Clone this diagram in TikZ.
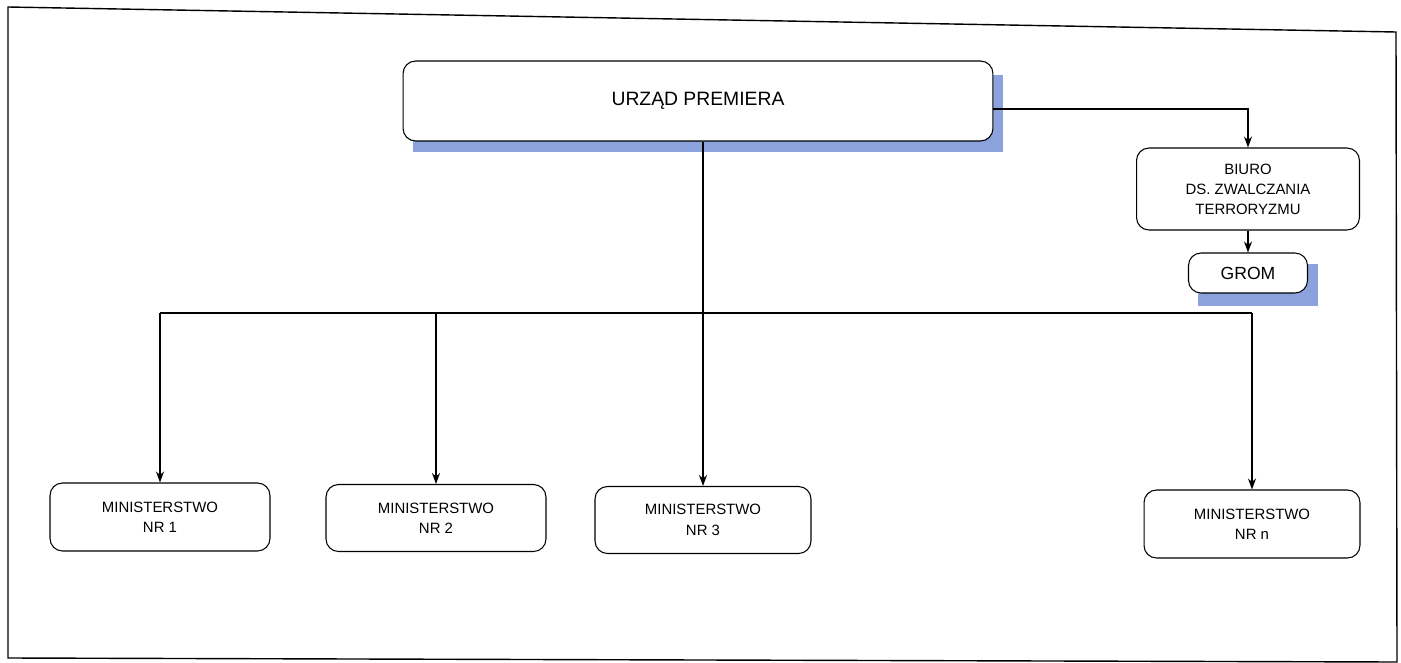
\documentclass[tikz,border=0pt]{standalone}
\usepackage{fontspec}
\setmainfont{Liberation Sans}
\usetikzlibrary{arrows.meta,backgrounds,positioning}
\definecolor{shadowblue}{RGB}{140,162,220}

\tikzset{
  box/.style={draw, fill=white, rounded corners=0.25cm, line width=0.6pt, align=center, inner sep=0pt},
  arr/.style={-{Stealth[length=2.2mm,width=1.6mm]}, line width=0.9pt}
}

\begin{document}
\begin{tikzpicture}[x=0.02cm,y=-0.02cm]
\useasboundingbox (0,0) rectangle (1401,663);
\draw[line width=0.8pt] (8,7) -- (1396,32) -- (1397,662) -- (8,658) -- cycle;

\node[box,minimum width=11.8cm,minimum height=1.6cm,font=\fontsize{11}{13}\selectfont] (premier) at (698,101) {URZĄD PREMIERA};
\node[box,minimum width=4.46cm,minimum height=1.64cm,font=\fontsize{8.5}{11.4}\selectfont] (biuro) at (1248,189) {BIURO\\DS. ZWALCZANIA\\TERRORYZMU};
\node[box,minimum width=2.38cm,minimum height=0.8cm,font=\fontsize{10}{12}\selectfont] (grom) at (1248,273) {GROM};

\node[box,minimum width=4.4cm,minimum height=1.36cm,font=\fontsize{8.5}{11.6}\selectfont] (min1) at (160,517) {MINISTERSTWO\\NR 1};
\node[box,minimum width=4.4cm,minimum height=1.34cm,font=\fontsize{8.5}{11.6}\selectfont] (min2) at (436,518) {MINISTERSTWO\\NR 2};
\node[box,minimum width=4.32cm,minimum height=1.34cm,font=\fontsize{8.5}{11.6}\selectfont] (min3) at (703,520) {MINISTERSTWO\\NR 3};
\node[box,minimum width=4.32cm,minimum height=1.36cm,font=\fontsize{8.5}{11.6}\selectfont] (minn) at (1252,524) {MINISTERSTWO\\NR n};

% flat blue shadows behind the two top boxes
\begin{scope}[on background layer]
\fill[shadowblue] ([shift={(0.2cm,-0.2cm)}]premier.south west) rectangle ([shift={(0.2cm,-0.3cm)}]premier.north east);
\fill[shadowblue] ([shift={(0.2cm,-0.24cm)}]grom.south west) rectangle ([shift={(0.2cm,-0.24cm)}]grom.north east);
\end{scope}

\coordinate (bus) at (703,313);

\draw[arr] ([yshift=-0.16cm]premier.east) -| (biuro.north);
\draw[arr] (biuro.south) -- (grom.north);

% ministries hang from one bus line
\draw[arr] (premier.south -| min3.north) -- (min3.north);
\draw[line width=0.9pt] (min1.north |- bus) -- (minn.north |- bus);
\draw[arr] (min1.north |- bus) -- (min1.north);
\draw[arr] (min2.north |- bus) -- (min2.north);
\draw[arr] (minn.north |- bus) -- (minn.north);
\end{tikzpicture}
\end{document}
